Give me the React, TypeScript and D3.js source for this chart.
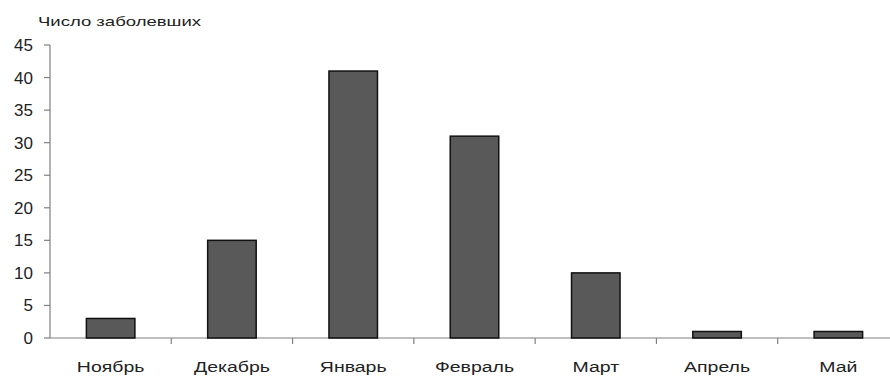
import React from "react";
import * as d3 from "d3";

const categories = ["Ноябрь", "Декабрь", "Январь", "Февраль", "Март", "Апрель", "Май"];
const values = [3, 15, 41, 31, 10, 1, 1];
const yTicks = [0, 5, 10, 15, 20, 25, 30, 35, 40, 45];
const title = "Число заболевших";

export default function App() {
  const W = 890, H = 376;
  const left = 50, right = 899, top = 45, bottom = 338;
  const x = d3.scaleBand<string>().domain(categories).range([left, right]).paddingInner(0.6).paddingOuter(0.3);
  const xs = d3.scaleBand<string>().domain(categories).range([left, right]);
  const y = d3.scaleLinear().domain([0, 45]).range([bottom, top]);
  const font = "'Liberation Sans', Arial, sans-serif";
  return (
    <svg width={W} height={H} style={{ position: "absolute", left: 0, top: 0, background: "#fff" }}>
      <text x={38} y={26} fontFamily={font} fontSize={13} fill="#222" textLength={163} lengthAdjust="spacingAndGlyphs">{title}</text>
      {/* y axis */}
      <line x1={left} x2={left} y1={top} y2={bottom} stroke="#808080" strokeWidth={1.2} />
      {yTicks.map((t) => (
        <g key={t}>
          <line x1={left - 6} x2={left} y1={y(t)} y2={y(t)} stroke="#808080" strokeWidth={1.2} />
          <text x={33} y={y(t) + 6} textAnchor="end" fontFamily={font} fontSize={17} fill="#222">{t}</text>
        </g>
      ))}
      {/* x axis */}
      <line x1={left} x2={W} y1={bottom} y2={bottom} stroke="#808080" strokeWidth={1.2} />
      {categories.map((c) => (
        <line key={c} x1={xs(c)! + xs.bandwidth()} x2={xs(c)! + xs.bandwidth()} y1={bottom} y2={bottom + 6} stroke="#808080" strokeWidth={1.2} />
      ))}
      {categories.map((c, i) => (
        <rect key={c} x={x(c)!} y={y(values[i])} width={x.bandwidth()} height={bottom - y(values[i])} fill="#595959" stroke="#111" strokeWidth={1.5} />
      ))}
      {categories.map((c) => {
        const cx = xs(c)! + xs.bandwidth() / 2;
        return (
          <text key={c} x={cx} y={372} textAnchor="middle" fontFamily={font} fontSize={15} fill="#222" transform={`translate(${cx},0) scale(1.3,1) translate(${-cx},0)`}>{c}</text>
        );
      })}
    </svg>
  );
}
